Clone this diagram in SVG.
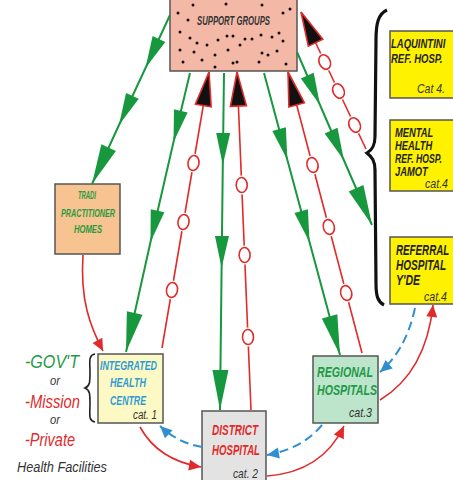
<svg xmlns="http://www.w3.org/2000/svg" width="453" height="480" viewBox="0 0 453 480">
<style>
.b{font-family:"Liberation Sans",Arial,sans-serif;font-weight:bold;font-style:italic}
.i{font-family:"Liberation Sans",Arial,sans-serif;font-style:italic}
.box{stroke:#555;stroke-width:1.5}
.gl{fill:none;stroke:#17983f;stroke-width:2}
.rl{fill:none;stroke:#e12a2a;stroke-width:1.6}
.bl{fill:none;stroke:#2f8fd0;stroke-width:2;stroke-dasharray:9,5}
.halo{fill:#fff;stroke:#fff;stroke-width:4}
.ring{fill:#fff;stroke:#e12a2a;stroke-width:1.6}
.dot{fill:#111}
</style>
<defs>
<marker id="ga" viewBox="-36 -9 38 18" refX="0" refY="0" markerWidth="38" markerHeight="18" markerUnits="userSpaceOnUse" orient="auto"><path d="M0,0 L-32,-7 L-32,7 Z" fill="#17983f"/></marker>
<marker id="gae" viewBox="-44 -10 46 20" refX="0" refY="0" markerWidth="46" markerHeight="20" markerUnits="userSpaceOnUse" orient="auto"><path d="M0,0 L-40,-8 L-40,8 Z" fill="#17983f"/></marker>
<marker id="ba" viewBox="-40 -11 42 22" refX="0" refY="0" markerWidth="42" markerHeight="22" markerUnits="userSpaceOnUse" orient="auto"><path d="M0,0 L-34,-8 L-34,8 Z" fill="#111" stroke="#e12a2a" stroke-width="1.6"/></marker>
<marker id="ra" viewBox="-14 -7 15 14" refX="0" refY="0" markerWidth="15" markerHeight="14" markerUnits="userSpaceOnUse" orient="auto"><path d="M0,0 L-12,-5.5 L-12,5.5 Z" fill="#e12a2a"/></marker>
<marker id="ua" viewBox="-14 -7 15 14" refX="0" refY="0" markerWidth="15" markerHeight="14" markerUnits="userSpaceOnUse" orient="auto"><path d="M0,0 L-12,-5.5 L-12,5.5 Z" fill="#2f8fd0"/></marker>
</defs>
<rect width="453" height="480" fill="#fff"/>

<g id="support-groups">
<rect class="box" x="170" y="-5" width="127" height="76" fill="#f4b9a6" stroke="#444" stroke-width="2"/>
<g class="dot">
<circle cx="178" cy="13" r="1.5"/><circle cx="188" cy="20" r="1.5"/><circle cx="283" cy="13" r="1.5"/><circle cx="290" cy="9" r="1.5"/>
<circle cx="193" cy="5" r="1.5"/><circle cx="226" cy="4" r="1.5"/><circle cx="262" cy="5" r="1.5"/>
<circle cx="180" cy="32" r="1.5"/><circle cx="190" cy="38" r="1.5"/><circle cx="197" cy="43" r="1.5"/><circle cx="207" cy="45" r="1.5"/>
<circle cx="218" cy="40" r="1.5"/><circle cx="227" cy="36" r="1.5"/><circle cx="233" cy="36" r="1.5"/><circle cx="240" cy="45" r="1.5"/>
<circle cx="245" cy="39" r="1.5"/><circle cx="252" cy="39" r="1.5"/><circle cx="261" cy="35" r="1.5"/><circle cx="272" cy="37" r="1.5"/>
<circle cx="279" cy="33" r="1.5"/><circle cx="283" cy="41" r="1.5"/><circle cx="180" cy="50" r="1.5"/><circle cx="194" cy="52" r="1.5"/>
<circle cx="202" cy="60" r="1.5"/><circle cx="215" cy="55" r="1.5"/><circle cx="228" cy="50" r="1.5"/><circle cx="262" cy="53" r="1.5"/>
<circle cx="268" cy="55" r="1.5"/><circle cx="277" cy="51" r="1.5"/><circle cx="183" cy="62" r="1.5"/><circle cx="215" cy="67" r="1.5"/>
<circle cx="233" cy="63" r="1.5"/><circle cx="237" cy="62" r="1.5"/><circle cx="259" cy="62" r="1.5"/><circle cx="286" cy="64" r="1.5"/>
</g>
<text class="b" x="197" y="24.5" font-size="12" fill="#333" textLength="73" lengthAdjust="spacingAndGlyphs">SUPPORT GROUPS</text>
</g>

<g id="tradi">
<rect class="box" x="55" y="184" width="65" height="70" fill="#f6c391"/>
<g class="b" font-size="11.5" fill="#2a9a40" text-anchor="middle">
<text x="87" y="199" textLength="18" lengthAdjust="spacingAndGlyphs">TRADI</text>
<text x="88" y="217" textLength="54" lengthAdjust="spacingAndGlyphs">PRACTITIONER</text>
<text x="88" y="233" textLength="28" lengthAdjust="spacingAndGlyphs">HOMES</text>
</g>
</g>

<g id="laquintini">
<rect class="box" x="390" y="31" width="70" height="67" fill="#fff200"/>
<text class="b" transform="matrix(0.73 0 0 1 391 48)" font-size="13" fill="#222">LAQUINTINI</text>
<text class="b" transform="matrix(0.73 0 0 1 391 63)" font-size="13" fill="#222">REF. HOSP.</text>
<text class="i" x="417" y="93" font-size="13" fill="#333" textLength="28" lengthAdjust="spacingAndGlyphs">Cat 4.</text>
</g>

<g id="mental-health">
<rect class="box" x="390" y="120" width="70" height="71" fill="#fff200"/>
<g class="b" font-size="12" fill="#222">
<text transform="matrix(0.78 0 0 1 395 137)">MENTAL</text>
<text transform="matrix(0.78 0 0 1 395 150)">HEALTH</text>
<text transform="matrix(0.72 0 0 1 395 163)">REF. HOSP.</text>
<text transform="matrix(0.78 0 0 1 395 176)">JAMOT</text>
</g>
<text class="i" x="425" y="188" font-size="12" fill="#333" textLength="23" lengthAdjust="spacingAndGlyphs">cat.4</text>
</g>

<g id="referral">
<rect class="box" x="390" y="237" width="70" height="67" fill="#fff200"/>
<g class="b" font-size="14" fill="#222">
<text transform="matrix(0.7 0 0 1 396 255)">REFERRAL</text>
<text transform="matrix(0.72 0 0 1 396 270)">HOSPITAL</text>
<text transform="matrix(0.75 0 0 1 396 285)">Y'DE</text>
</g>
<text class="i" x="424" y="301" font-size="13" fill="#333" textLength="23" lengthAdjust="spacingAndGlyphs">cat.4</text>
</g>

<g id="integrated-health-centre">
<rect class="box" x="98" y="354" width="65" height="69" fill="#fdf9c4"/>
<g class="b" font-size="13" fill="#2e9bd6" text-anchor="middle">
<text x="128.5" y="370" textLength="57" lengthAdjust="spacingAndGlyphs">INTEGRATED</text>
<text x="128" y="387" textLength="36" lengthAdjust="spacingAndGlyphs">HEALTH</text>
<text x="128" y="405" textLength="36" lengthAdjust="spacingAndGlyphs">CENTRE</text>
</g>
<text class="i" x="133" y="419" font-size="12" fill="#333" textLength="24" lengthAdjust="spacingAndGlyphs">cat. 1</text>
</g>

<g id="district-hospital">
<rect class="box" x="202" y="411" width="64" height="75" fill="#e3e3e3"/>
<g class="b" font-size="14" fill="#e12a2a" text-anchor="middle">
<text x="235" y="435" textLength="46" lengthAdjust="spacingAndGlyphs">DISTRICT</text>
<text x="236" y="455" textLength="48" lengthAdjust="spacingAndGlyphs">HOSPITAL</text>
</g>
<text class="i" x="233" y="478" font-size="13" fill="#333" textLength="25" lengthAdjust="spacingAndGlyphs">cat. 2</text>
</g>

<g id="regional-hospitals">
<rect class="box" x="313" y="356" width="65" height="67" fill="#bde5cb"/>
<g class="b" font-size="14" fill="#1f9a48" text-anchor="middle">
<text x="345" y="377" textLength="56" lengthAdjust="spacingAndGlyphs">REGIONAL</text>
<text x="347" y="395" textLength="60" lengthAdjust="spacingAndGlyphs">HOSPITALS</text>
</g>
<text class="i" x="349" y="417" font-size="13" fill="#333" textLength="23" lengthAdjust="spacingAndGlyphs">cat.3</text>
</g>

<g id="ownership-legend">
<text class="i" x="25" y="368" font-size="18" fill="#1f9a48" textLength="54" lengthAdjust="spacingAndGlyphs">-GOV'T</text>
<text class="i" x="50" y="385" font-size="13" fill="#333" textLength="10" lengthAdjust="spacingAndGlyphs">or</text>
<text class="i" x="25" y="408" font-size="18" fill="#e12a2a" textLength="55" lengthAdjust="spacingAndGlyphs">-Mission</text>
<text class="i" x="50" y="424" font-size="13" fill="#333" textLength="10" lengthAdjust="spacingAndGlyphs">or</text>
<text class="i" x="25" y="446" font-size="18" fill="#e12a2a" textLength="50" lengthAdjust="spacingAndGlyphs">-Private</text>
<text class="i" x="17" y="472" font-size="14" fill="#333" textLength="90" lengthAdjust="spacingAndGlyphs">Health Facilities</text>
<path d="M95,354 C88,355 90,362 90,372 C90,382 90,386 85,388 C90,390 90,394 90,404 C90,414 88,421 95,422" fill="none" stroke="#222" stroke-width="1.6"/>
</g>

<g id="connectors">
<path d="M387,10 C378,14 376,24 376,40 L375,136 C375,146 372,150 367,153 C372,157 375,161 375,170 L376,284 C376,296 378,302 384,305" fill="none" stroke="#111" stroke-width="3.2"/>

<path class="gl" d="M170,15 L145.5,68 L119,125 L92,184" marker-mid="url(#ga)" marker-end="url(#gae)"/>
<path class="gl" d="M190,73 L173.5,142 L150.5,242 L126,352" marker-mid="url(#ga)" marker-end="url(#gae)"/>
<path class="gl" d="M224,73 L222.8,165 L221.6,268 L220,410" marker-mid="url(#ga)" marker-end="url(#gae)"/>
<path class="gl" d="M264,73 L287.4,160 L309.5,242 L340,355" marker-mid="url(#ga)" marker-end="url(#gae)"/>
<path class="gl" d="M297,52 L320,105 L343.8,160 L372,225" marker-mid="url(#ga)" marker-end="url(#gae)"/>

<path class="rl" d="M162,348 L209,72" marker-end="url(#ba)"/>
<path class="rl" d="M251,410 L237,72" marker-end="url(#ba)"/>
<path class="rl" d="M362,353 L288,72" marker-end="url(#ba)"/>
<path class="rl" d="M366,149 L301,12" marker-end="url(#ba)"/>

<g>
<ellipse class="halo" cx="193.5" cy="163" rx="5.5" ry="7.5" transform="rotate(9.7 193.5 163)"/><ellipse class="ring" cx="193.5" cy="163" rx="5.5" ry="7.5" transform="rotate(9.7 193.5 163)"/>
<ellipse class="halo" cx="183.5" cy="222" rx="5.5" ry="7.5" transform="rotate(9.7 183.5 222)"/><ellipse class="ring" cx="183.5" cy="222" rx="5.5" ry="7.5" transform="rotate(9.7 183.5 222)"/>
<ellipse class="halo" cx="172" cy="290" rx="5.5" ry="7.5" transform="rotate(9.7 172 290)"/><ellipse class="ring" cx="172" cy="290" rx="5.5" ry="7.5" transform="rotate(9.7 172 290)"/>

<ellipse class="halo" cx="241.7" cy="185" rx="5.5" ry="7.5" transform="rotate(-2.4 241.7 185)"/><ellipse class="ring" cx="241.7" cy="185" rx="5.5" ry="7.5" transform="rotate(-2.4 241.7 185)"/>
<ellipse class="halo" cx="244.6" cy="255" rx="5.5" ry="7.5" transform="rotate(-2.4 244.6 255)"/><ellipse class="ring" cx="244.6" cy="255" rx="5.5" ry="7.5" transform="rotate(-2.4 244.6 255)"/>
<ellipse class="halo" cx="248" cy="337" rx="5.5" ry="7.5" transform="rotate(-2.4 248 337)"/><ellipse class="ring" cx="248" cy="337" rx="5.5" ry="7.5" transform="rotate(-2.4 248 337)"/>

<ellipse class="halo" cx="312.5" cy="165" rx="5.5" ry="7.5" transform="rotate(-14.75 312.5 165)"/><ellipse class="ring" cx="312.5" cy="165" rx="5.5" ry="7.5" transform="rotate(-14.75 312.5 165)"/>
<ellipse class="halo" cx="328.8" cy="227" rx="5.5" ry="7.5" transform="rotate(-14.75 328.8 227)"/><ellipse class="ring" cx="328.8" cy="227" rx="5.5" ry="7.5" transform="rotate(-14.75 328.8 227)"/>
<ellipse class="halo" cx="346.2" cy="293" rx="5.5" ry="7.5" transform="rotate(-14.75 346.2 293)"/><ellipse class="ring" cx="346.2" cy="293" rx="5.5" ry="7.5" transform="rotate(-14.75 346.2 293)"/>

<ellipse class="halo" cx="324.7" cy="62" rx="5.5" ry="7.5" transform="rotate(-25.4 324.7 62)"/><ellipse class="ring" cx="324.7" cy="62" rx="5.5" ry="7.5" transform="rotate(-25.4 324.7 62)"/>
<ellipse class="halo" cx="338.5" cy="91" rx="5.5" ry="7.5" transform="rotate(-25.4 338.5 91)"/><ellipse class="ring" cx="338.5" cy="91" rx="5.5" ry="7.5" transform="rotate(-25.4 338.5 91)"/>
<ellipse class="halo" cx="354.6" cy="125" rx="5.5" ry="7.5" transform="rotate(-25.4 354.6 125)"/><ellipse class="ring" cx="354.6" cy="125" rx="5.5" ry="7.5" transform="rotate(-25.4 354.6 125)"/>
</g>

<path class="rl" d="M83,255 C80,300 90,326 103,351" marker-end="url(#ra)"/>
<path class="rl" d="M140,427 Q158,460 201,467" marker-end="url(#ra)"/>
<path class="bl" d="M202,447 Q178,443 160,426" marker-end="url(#ua)"/>
<path class="bl" d="M322,425 Q302,449 267,455" marker-end="url(#ua)"/>
<path class="rl" d="M267,476 Q322,472 344,426" marker-end="url(#ra)"/>
<path class="bl" d="M415,308 Q406,350 380,372" marker-end="url(#ua)"/>
<path class="rl" d="M380,400 Q426,372 433,305" marker-end="url(#ra)"/>
</g>
</svg>
